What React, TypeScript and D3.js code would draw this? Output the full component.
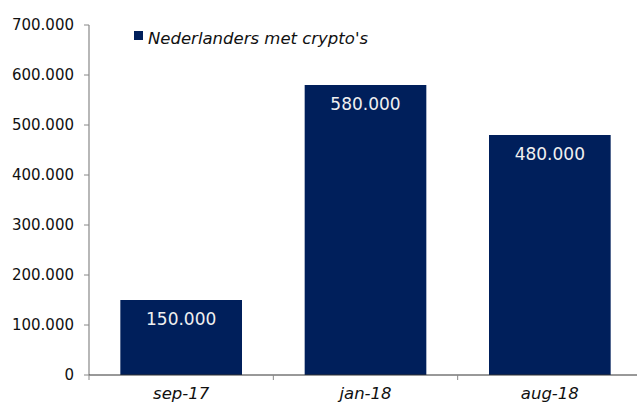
import React from "react";
import * as d3 from "d3";

const categories = ["sep-17", "jan-18", "aug-18"];
const values = [150000, 580000, 480000];
const yTicks = [0, 100000, 200000, 300000, 400000, 500000, 600000, 700000];
const seriesName = "Nederlanders met crypto's";

const W = 637, H = 405;
const left = 89, right = 642, top = 25, bottom = 375;
const barColor = "#001F5B";
const font = "Verdana, 'DejaVu Sans', sans-serif";

const fmt = (v: number) => (v === 0 ? "0" : d3.format(",")(v).replace(/,/g, "."));

export default function App() {
  const x = d3.scaleBand<string>().domain(categories).range([left, right]).paddingInner(0.34).paddingOuter(0.17);
  const xb = d3.scaleBand<string>().domain(categories).range([left, right]);
  const y = d3.scaleLinear().domain([0, 700000]).range([bottom, top]);
  return (
    <svg width={W} height={H} style={{ position: "absolute", left: 0, top: 0 }}>
      <rect width={W} height={H} fill="#fff" />
      {categories.map((c, i) => (
        <g key={c}>
          <rect x={x(c)!} y={y(values[i])} width={x.bandwidth()} height={bottom - y(values[i])} fill={barColor} />
          <text x={x(c)! + x.bandwidth() / 2} y={y(values[i]) + 25} textAnchor="middle" fill="#f0f0f0" fontFamily={font} fontSize={17}>
            {fmt(values[i])}
          </text>
          <text x={xb(c)! + xb.bandwidth() / 2} y={bottom + 24} textAnchor="middle" fill="#111" fontFamily={font} fontStyle="italic" fontSize={16.5}>
            {c}
          </text>
        </g>
      ))}
      {/* y axis */}
      <line x1={left} x2={left} y1={top} y2={bottom} stroke="#888" strokeWidth={1.2} />
      {yTicks.map((t) => (
        <g key={t}>
          <line x1={left - 5} x2={left} y1={y(t)} y2={y(t)} stroke="#888" />
          <text x={74} y={y(t) + 5} textAnchor="end" fill="#111" fontFamily={font} fontSize={15}>
            {fmt(t)}
          </text>
        </g>
      ))}
      {/* x axis */}
      <line x1={left} x2={W} y1={bottom} y2={bottom} stroke="#333" strokeWidth={1} />
      {categories.map((c) => (
        <line key={c} x1={xb(c)!} x2={xb(c)!} y1={bottom} y2={bottom + 5} stroke="#888" />
      ))}
      {/* legend */}
      <rect x={134} y={31} width={9} height={9} fill={barColor} />
      <text x={148} y={44} fill="#111" fontFamily={font} fontStyle="italic" fontSize={16.5}>
        {seriesName}
      </text>
    </svg>
  );
}
